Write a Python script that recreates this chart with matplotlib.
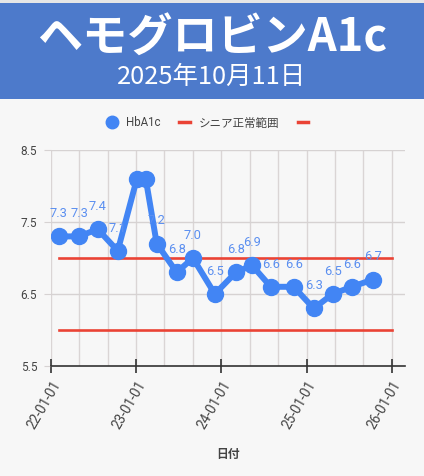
import matplotlib
matplotlib.use("Agg")
import matplotlib.pyplot as plt
from matplotlib.lines import Line2D
from matplotlib.patches import Rectangle
import numpy as np

plt.rcParams['font.family'] = ['Roboto', 'Noto Sans CJK JP', 'DejaVu Sans']

# ---- data ----
dates = ["2022-02-04", "2022-05-01", "2022-07-20", "2022-10-14", "2023-01-04",
         "2023-02-11", "2023-03-30", "2023-06-24", "2023-09-01", "2023-12-04",
         "2024-03-03", "2024-05-11", "2024-07-31", "2024-11-06", "2025-01-31",
         "2025-04-22", "2025-07-13", "2025-10-11"]
hba1c = [7.3, 7.3, 7.4, 7.1, 8.1, 8.1, 7.2, 6.8, 7.0, 6.5,
         6.8, 6.9, 6.6, 6.6, 6.3, 6.5, 6.6, 6.7]
show_label = [True, True, True, True, False, False, True, True, True, True,
              True, True, True, True, True, True, True, True]
range_upper = 7.0
range_lower = 6.0
range_end = "2026-01-01"
year_ticks = ["2022-01-01", "2023-01-01", "2024-01-01", "2025-01-01", "2026-01-01"]
year_labels = ["22-01-01", "23-01-01", "24-01-01", "25-01-01", "26-01-01"]
y_ticks = [5.5, 6.5, 7.5, 8.5]
title = "ヘモグロビンA1c"
subtitle = "2025年10月11日"
legend_labels = ["HbA1c", "シニア正常範囲", ""]
xlabel = "日付"

BLUE = "#4285F4"
LABEL_BLUE = "#5B8FF0"
RED = "#EA4335"
BG = "#F7F7F7"

W, H = 424, 476
fig = plt.figure(figsize=(W / 100, H / 100), dpi=100, facecolor=BG)

# header band
fig.patches.append(Rectangle((0, (H - 99) / H), 1, 96 / H, transform=fig.transFigure,
                             facecolor="#4D7ACB", edgecolor="none", zorder=0))
fig.patches.append(Rectangle((0, (H - 3) / H), 1, 3 / H, transform=fig.transFigure,
                             facecolor="#E6E6E6", edgecolor="none", zorder=0))
fig.text(0.5, 1 - 39 / H, title, ha="center", va="center", color="white",
         fontsize=32.5, fontweight="bold", family=["Noto Sans CJK JP"])
fig.text(0.5, 1 - 77 / H, subtitle, ha="center", va="center", color="white",
         fontsize=18.3, family=["Noto Sans CJK JP"])

ax = fig.add_axes([51 / W, (H - 366) / H, (405 - 51) / W, (366 - 150) / H])
ax.set_facecolor(BG)

d = np.array(dates, dtype="datetime64[D]")
x0 = np.datetime64("2022-01-01")
px_per_day = 85.25 / 365.25
xmax = x0 + np.timedelta64(int(round((405 - 51) / px_per_day)), "D")
ax.set_xlim(x0, xmax)
ax.set_ylim(5.5, 8.5)

# grid
minor = np.arange(np.datetime64("2022-01"), np.datetime64("2026-02"), np.timedelta64(4, "M")).astype("datetime64[D]")
for m in minor:
    ax.axvline(m, color="#DAD5D5", lw=1.0, zorder=1)
for yv in y_ticks[1:]:
    ax.axhline(yv, color="#D6D2D2", lw=1.0, zorder=1)

# normal range lines
rend = np.datetime64(range_end)
ax.plot([d[0], rend], [range_upper, range_upper], color=RED, lw=1.9, zorder=2,
        label=legend_labels[1])
ax.plot([d[0], rend], [range_lower, range_lower], color=RED, lw=1.9, zorder=2,
        label=legend_labels[2])

# data
ax.plot(d, hba1c, color=BLUE, lw=4.3, marker="o", markersize=11.5, zorder=3,
        label=legend_labels[0], solid_capstyle="round")
for xi, yi, s in zip(d, hba1c, show_label):
    if s:
        ax.annotate(f"{yi:.1f}", (xi, yi), xytext=(0, 16.3), textcoords="offset points",
                    ha="center", va="center", color=LABEL_BLUE, fontsize=9.3, zorder=4)

# axes styling
for s in ["left", "right", "top"]:
    ax.spines[s].set_visible(False)
ax.spines["bottom"].set_color("#333333")
ax.spines["bottom"].set_linewidth(1.2)
ax.set_yticks(y_ticks)
ax.set_yticklabels([f"{v:.1f}" for v in y_ticks])
ax.tick_params(axis="y", length=5, color="#D6D2D2", labelsize=8.5, labelcolor="#444444", pad=5)
ax.set_xticks(np.array(year_ticks, dtype="datetime64[D]"))
ax.set_xticklabels(year_labels, rotation=60, ha="right", rotation_mode="anchor")
ax.tick_params(axis="x", direction="inout", length=10, width=1.2, color="#333333",
               labelsize=9.8, labelcolor="#444444", pad=4)
ax.set_xlabel(xlabel, fontsize=8.5, color="#444444", fontweight="bold", labelpad=12)

# legend
handles = [Line2D([], [], color=BLUE, marker="o", linestyle="none", markersize=9),
           Line2D([], [], color=RED, lw=2.5),
           Line2D([], [], color=RED, lw=2.5)]
fig.legend(handles, legend_labels, loc="center", bbox_to_anchor=(0.5, 1 - 123 / H),
           ncol=3, frameon=False, fontsize=8.3, handlelength=0.9, handletextpad=0.8,
           columnspacing=1.6, labelcolor="#444444")

fig.savefig("out.png", dpi=100, facecolor=BG)
